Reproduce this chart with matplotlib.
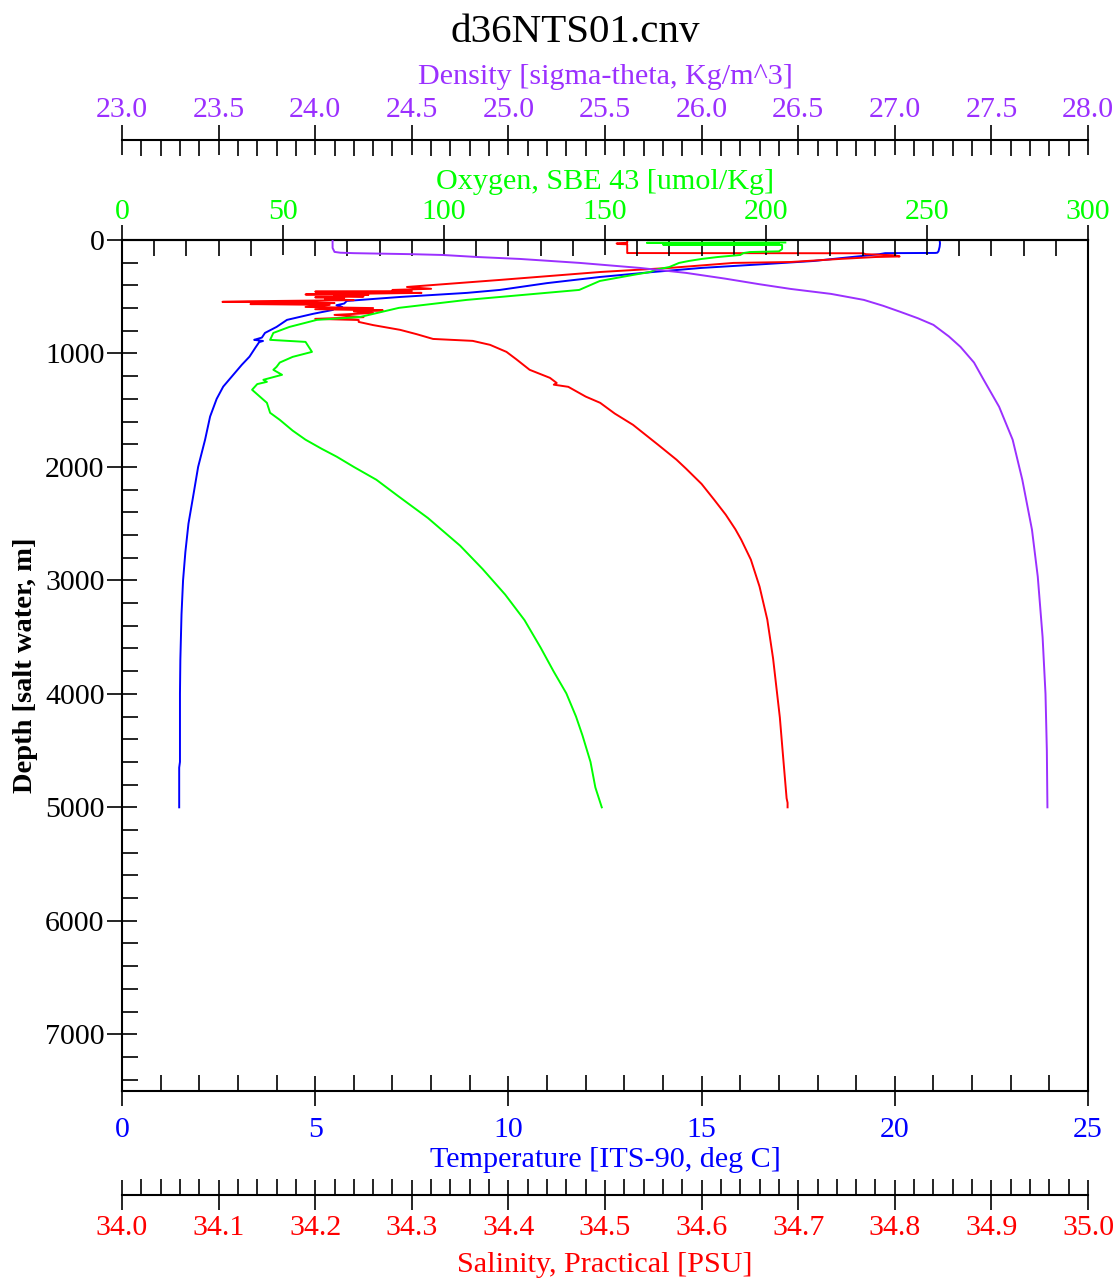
import matplotlib
matplotlib.use("Agg")
import matplotlib.pyplot as plt
from matplotlib.ticker import MultipleLocator, FormatStrFormatter

plt.rcParams['font.family'] = ['Liberation Serif', 'DejaVu Serif']

# --- profile data ---
depth_t = [0, 30, 60, 100, 112, 114, 116, 125, 141, 160, 185, 211, 246, 282, 326, 380,
           440, 466, 502, 537, 560, 575, 590, 600, 616, 651, 704, 766, 819, 860, 872,
           880, 890, 900, 950, 1028, 1100, 1200, 1292, 1400, 1556, 1760, 2000, 2262,
           2500, 2750, 3000, 3300, 3700, 4000, 4600, 4650, 5000]
temp = [21.16, 21.17, 21.16, 21.13, 21.1, 21.05, 19.75, 19.6, 19.15, 18.6, 17.9, 16.7,
        15.0, 13.74, 12.37, 11.0, 9.78, 8.93, 7.2, 5.82, 5.75, 5.55, 5.7, 5.5, 5.46,
        4.94, 4.27, 4.0, 3.7, 3.62, 3.5, 3.42, 3.65, 3.55, 3.45, 3.3, 3.1, 2.85, 2.62,
        2.45, 2.28, 2.15, 1.97, 1.84, 1.72, 1.64, 1.58, 1.54, 1.51, 1.50, 1.50, 1.48, 1.48]

depth_s = [8, 25, 28, 30, 35, 38, 112, 115, 117, 125, 135, 145, 150, 167, 194, 202, 246,
           282, 352, 414, 430, 440, 450, 455, 458, 463, 466, 472, 480, 484, 490, 498,
           505, 510, 520, 530, 540, 545, 550, 556, 565, 572, 590, 600, 610, 620, 630,
           643, 660, 680, 695, 705, 722, 750, 792, 830, 872, 889, 924, 986, 1050, 1144,
           1215, 1260, 1275, 1294, 1380, 1435, 1529, 1629, 1805, 1936, 2016, 2150, 2289,
           2421, 2550, 2641, 2817, 3055, 3345, 3688, 4208, 4516, 4920, 4960, 5000]
salinity = [34.523, 34.523, 34.514, 34.512, 34.513, 34.523, 34.523, 34.523, 34.767,
            34.77, 34.80, 34.805, 34.78, 34.743, 34.692, 34.633, 34.567, 34.495, 34.391,
            34.295, 34.32, 34.28, 34.30, 34.20, 34.27, 34.235, 34.31, 34.26, 34.19,
            34.255, 34.22, 34.25, 34.20, 34.23, 34.21, 34.24, 34.13, 34.104, 34.20,
            34.22, 34.133, 34.215, 34.19, 34.26, 34.20, 34.27, 34.24, 34.26, 34.22,
            34.25, 34.20, 34.245, 34.245, 34.26, 34.288, 34.305, 34.322, 34.363, 34.381,
            34.398, 34.408, 34.422, 34.443, 34.450, 34.447, 34.462, 34.48, 34.495,
            34.51, 34.529, 34.555, 34.574, 34.584, 34.600, 34.613, 34.625, 34.635,
            34.641, 34.651, 34.66, 34.668, 34.674, 34.681, 34.684, 34.688, 34.689, 34.689]

depth_o = [22, 25, 28, 31, 33, 35, 37, 40, 44, 48, 60, 80, 100, 106, 115, 132, 150, 167,
           185, 202, 238, 260, 282, 308, 361, 440, 502, 528, 598, 678, 704, 766, 819,
           880, 898, 986, 1030, 1080, 1118, 1144, 1188, 1232, 1250, 1270, 1320, 1435,
           1523, 1585, 1680, 1760, 1840, 1910, 2000, 2113, 2262, 2450, 2694, 2900, 3125,
           3350, 3592, 3800, 3996, 4200, 4366, 4600, 4824, 5000]
oxygen = [206, 163, 204, 171, 182, 172, 200, 168, 205, 205, 205, 205, 204, 195, 193, 192,
          185, 180, 176, 173, 170, 166, 164, 158.7, 148.4, 142, 117.4, 107, 86, 74, 60.5,
          52, 47, 46, 57, 59, 53, 49, 48, 47, 49.7, 43.9, 45, 42, 40.4, 45, 46, 49, 53,
          57, 62, 66.7, 72, 79, 86, 95, 105, 112, 119, 125, 130, 134, 138, 141, 143,
          145.5, 147, 149]

depth_d = [0, 70, 105, 112, 116, 125, 132, 150, 167, 202, 246, 290, 340, 390, 431, 475,
           528, 580, 634, 690, 748, 850, 942, 1080, 1232, 1470, 1760, 2113, 2553, 2967,
           3500, 4000, 4500, 5000]
density = [24.09, 24.09, 24.10, 24.13, 24.2, 24.5, 24.66, 24.84, 25.06, 25.37, 25.68,
           25.92, 26.12, 26.3, 26.46, 26.67, 26.84, 26.94, 27.03, 27.12, 27.2, 27.28,
           27.34, 27.41, 27.46, 27.54, 27.61, 27.66, 27.71, 27.74, 27.765, 27.78,
           27.787, 27.79]

c_temp = '#0000FF'
c_sal = '#FF0000'
c_oxy = '#00FF00'
c_den = '#9B30FF'

fig = plt.figure(figsize=(11.19, 12.82), dpi=100)
ax = fig.add_axes([122 / 1119, 1 - 1091 / 1282, 966 / 1119, 851 / 1282])

lw_ax = 1.5
big = 22
small = 11.5
tfs = 21.5   # tick label size
lfs = 21.7   # axis label size

# depth / temperature axes
ax.set_ylim(7500, 0)
ax.set_xlim(0, 25)
ax.yaxis.set_major_locator(MultipleLocator(1000))
ax.yaxis.set_minor_locator(MultipleLocator(200))
ax.xaxis.set_major_locator(MultipleLocator(5))
ax.xaxis.set_minor_locator(MultipleLocator(1))
ax.tick_params(axis='y', which='major', direction='inout', length=big, width=1.2,
               labelsize=tfs, pad=1.5)
ax.tick_params(axis='y', which='minor', direction='in', length=small, width=1.2)
ax.tick_params(axis='x', which='major', direction='inout', length=big, width=1.2,
               labelsize=tfs, labelcolor=c_temp, pad=7.5)
ax.tick_params(axis='x', which='minor', direction='in', length=small, width=1.2)
for s in ax.spines.values():
    s.set_linewidth(lw_ax)
ax.set_ylabel('Depth [salt water, m]', fontsize=20.5, fontweight='bold', va='center')
ax.yaxis.set_label_coords(-0.1004, 0.5)
ax.set_xlabel('Temperature [ITS-90, deg C]', fontsize=lfs, color=c_temp, va='center')
ax.xaxis.set_label_coords(0.5, -0.0811)

# salinity (second bottom axis)
ax_s = ax.twiny()
ax_s.set_xlim(34.0, 35.0)
ax_s.xaxis.set_ticks_position('bottom')
ax_s.xaxis.set_label_position('bottom')
ax_s.spines['bottom'].set_position(('outward', 75))
for k in ['top', 'left', 'right']:
    ax_s.spines[k].set_visible(False)
ax_s.spines['bottom'].set_linewidth(lw_ax)
ax_s.xaxis.set_major_locator(MultipleLocator(0.1))
ax_s.xaxis.set_minor_locator(MultipleLocator(0.02))
ax_s.xaxis.set_major_formatter(FormatStrFormatter('%.1f'))
ax_s.tick_params(axis='x', which='major', direction='inout', length=big, width=1.2,
                 labelsize=tfs, labelcolor=c_sal, pad=3.5)
ax_s.tick_params(axis='x', which='minor', direction='in', length=small, width=1.2)
ax_s.set_xlabel('Salinity, Practical [PSU]', fontsize=lfs, color=c_sal, va='center')
ax_s.xaxis.set_label_coords(0.5, -0.2045)

# oxygen (top axis)
ax_o = ax.twiny()
ax_o.set_xlim(0, 300)
for k in ['bottom', 'left', 'right']:
    ax_o.spines[k].set_visible(False)
ax_o.spines['top'].set_linewidth(lw_ax)
ax_o.xaxis.set_major_locator(MultipleLocator(50))
ax_o.xaxis.set_minor_locator(MultipleLocator(10))
ax_o.xaxis.set_major_formatter(FormatStrFormatter('%d'))
ax_o.tick_params(axis='x', which='major', direction='inout', length=big, width=1.2,
                 labelsize=tfs, labelcolor=c_oxy, pad=0)
ax_o.tick_params(axis='x', which='minor', direction='in', length=small, width=1.2)
ax_o.set_xlabel('Oxygen, SBE 43 [umol/Kg]', fontsize=lfs, color=c_oxy, va='center')
ax_o.xaxis.set_label_coords(0.5, 1.0685)

# density (second top axis)
ax_d = ax.twiny()
ax_d.set_xlim(23.0, 28.0)
ax_d.spines['top'].set_position(('outward', 72))
for k in ['bottom', 'left', 'right']:
    ax_d.spines[k].set_visible(False)
ax_d.spines['top'].set_linewidth(lw_ax)
ax_d.xaxis.set_major_locator(MultipleLocator(0.5))
ax_d.xaxis.set_minor_locator(MultipleLocator(0.1))
ax_d.xaxis.set_major_formatter(FormatStrFormatter('%.1f'))
ax_d.tick_params(axis='x', which='major', direction='inout', length=big, width=1.2,
                 labelsize=tfs, labelcolor=c_den, pad=1)
ax_d.tick_params(axis='x', which='minor', direction='in', length=small, width=1.2)
ax_d.set_xlabel('Density [sigma-theta, Kg/m^3]', fontsize=lfs, color=c_den, va='center')
ax_d.xaxis.set_label_coords(0.5, 1.1920)

# profiles
ax_d.plot(density, depth_d, color=c_den, lw=1.4)
ax_o.plot(oxygen, depth_o, color=c_oxy, lw=1.4)
ax_s.plot(salinity, depth_s, color=c_sal, lw=1.4)
ax.plot(temp, depth_t, color=c_temp, lw=1.4, zorder=5)

fig.text(575 / 1119, 1 - 32 / 1282, 'd36NTS01.cnv', fontsize=29.5,
         ha='center', va='center')

fig.savefig('out.png', dpi=100)
